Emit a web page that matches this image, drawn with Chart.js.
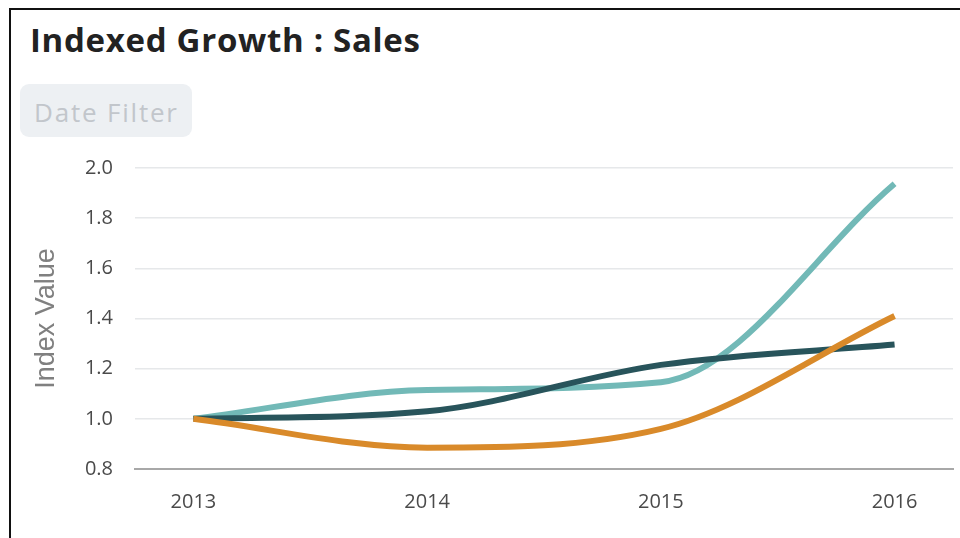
<!DOCTYPE html>
<html>
<head>
<meta charset="utf-8">
<script src="https://cdn.jsdelivr.net/npm/chart.js@4/dist/chart.umd.min.js"></script>
<style>
  html, body { margin: 0; padding: 0; background: #fff; }
  body { width: 960px; height: 538px; position: relative; overflow: hidden; font-family: "Open Sans", sans-serif; }
  .frame { position: absolute; left: 9px; top: 8px; right: -5px; bottom: -5px; border-left: 2px solid #111; border-top: 2px solid #111; }
  .title { position: absolute; left: 30px; top: 17px; font-size: 33px; line-height: 45px; font-weight: 700; color: #222; letter-spacing: 0.7px; }
  .filter { position: absolute; left: 20px; top: 84px; width: 172px; height: 53px; border-radius: 9px; background: #edf0f3; }
  .filter span { position: absolute; left: 14px; top: 11px; font-size: 26px; line-height: 34px; color: #c2c6cb; letter-spacing: 1.8px; }
  #wrap { position: absolute; left: 12px; top: 134px; width: 948px; height: 404px; }
</style>
</head>
<body>
<div class="frame"></div>
<div class="title">Indexed Growth : Sales</div>
<div class="filter"><span>Date Filter</span></div>
<div id="wrap"><canvas id="c"></canvas></div>
<script>
const years = [2013, 2014, 2015, 2016];
const seriesDark = [1.00, 1.03, 1.215, 1.296];
const seriesLight = [1.00, 1.115, 1.146, 1.937];
const seriesOrange = [1.00, 0.885, 0.96, 1.41];
const yTicks = [0.8, 1.0, 1.2, 1.4, 1.6, 1.8, 2.0];

const toPoints = vals => years.map((y, i) => ({ x: y, y: vals[i] }));

new Chart(document.getElementById('c'), {
  type: 'line',
  data: {
    datasets: [
      { label: 'Orange', data: toPoints(seriesOrange), borderColor: '#d98a2a' },
      { label: 'Dark', data: toPoints(seriesDark), borderColor: '#28545b' },
      { label: 'Light', data: toPoints(seriesLight), borderColor: '#72b9b7' }
    ]
  },
  options: {
    responsive: true,
    maintainAspectRatio: false,
    animation: false,
    layout: { padding: { top: 15, right: 7, left: 0, bottom: 0 } },
    elements: {
      line: { borderWidth: 6, cubicInterpolationMode: 'monotone', borderCapStyle: 'butt' },
      point: { radius: 0 }
    },
    plugins: { legend: { display: false }, tooltip: { enabled: false } },
    scales: {
      x: {
        type: 'linear',
        min: 2012.75,
        max: 2016.25,
        afterBuildTicks: s => { s.ticks = years.map(v => ({ value: v })); },
        afterFit: s => { s.height = 69; },
        grid: { display: false, drawTicks: false },
        border: { display: true, color: '#a8a8a8', width: 2 },
        ticks: { padding: 21, color: '#4a4a4a', font: { family: 'Open Sans', size: 20 }, callback: v => String(v) }
      },
      y: {
        min: 0.8,
        max: 2.0,
        afterBuildTicks: s => { s.ticks = yTicks.map(v => ({ value: v })); },
        afterFit: s => { s.width = 123; },
        grid: { color: '#e6e8ea', lineWidth: 1.5, drawTicks: false },
        border: { display: false },
        ticks: { padding: 22, color: '#4a4a4a', font: { family: 'Open Sans', size: 20 }, callback: v => v.toFixed(1) },
        title: { display: true, text: 'Index Value', color: '#808080', font: { family: 'Liberation Sans', size: 27 }, padding: { top: 18, bottom: 0 } }
      }
    }
  }
});
</script>
</body>
</html>
